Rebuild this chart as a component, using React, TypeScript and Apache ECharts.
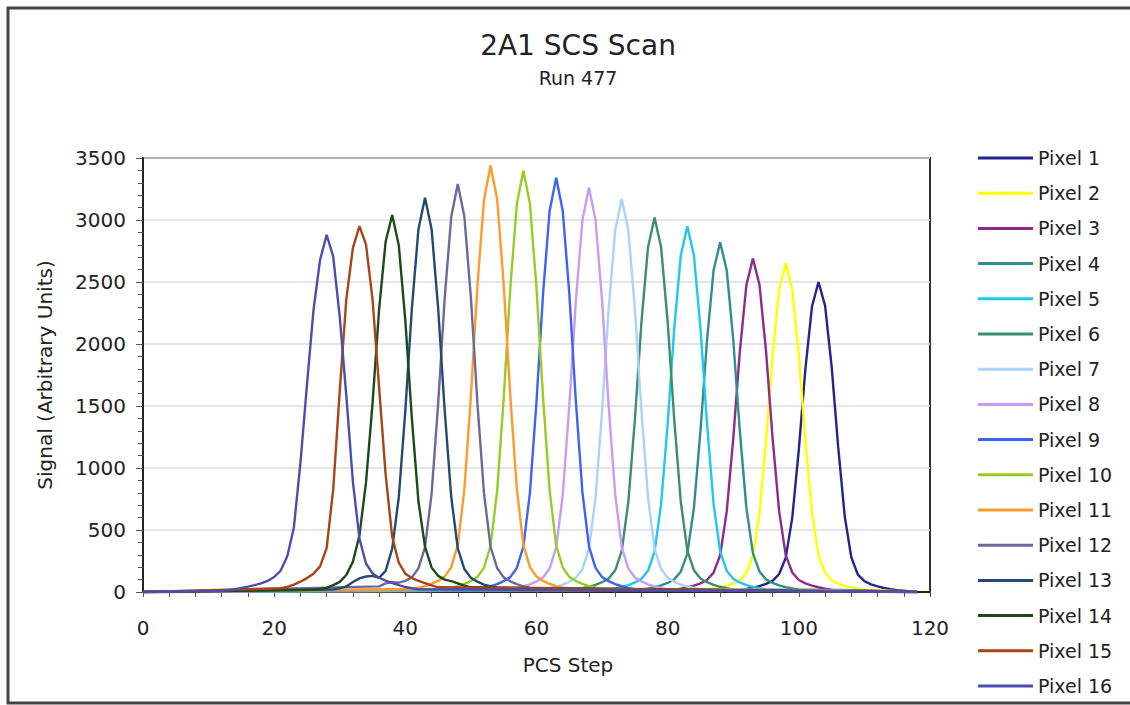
import React, { useEffect, useRef } from "react";
import * as echarts from "echarts";

const seriesNames = [
  "Pixel 1", "Pixel 2", "Pixel 3", "Pixel 4", "Pixel 5", "Pixel 6", "Pixel 7", "Pixel 8",
  "Pixel 9", "Pixel 10", "Pixel 11", "Pixel 12", "Pixel 13", "Pixel 14", "Pixel 15", "Pixel 16",
];

const seriesColors = [
  "#24248C", "#FFFF00", "#8E2A8C", "#2F8F8A", "#22C6F2", "#3A9068", "#A9D3FA", "#C99AF6",
  "#3D63F5", "#99CC22", "#FF9A2E", "#6C6A9C", "#244A72", "#1C4A1C", "#A84416", "#4D4DB0",
];

// PCS step of first value for each pixel
const startSteps = [91, 86, 81, 76, 71, 66, 61, 56, 51, 46, 41, 36, 29, 26, 21, 12];

// scan range (signal is ~0 at both ends)
const scanRange = [0, 118];

const pixel1 = [18, 25, 35, 48, 65, 90, 145, 275, 600, 1150, 1800, 2300, 2500, 2310, 1820, 1170, 610, 280, 140, 88, 62, 45, 32, 22, 15];
const pixel2 = [19, 27, 37, 50, 69, 95, 154, 292, 636, 1219, 1908, 2438, 2650, 2440, 1910, 1225, 640, 295, 155, 95, 68, 50, 37, 26, 19];
const pixel3 = [19, 27, 38, 51, 70, 97, 156, 296, 646, 1237, 1937, 2475, 2690, 2478, 1940, 1240, 650, 298, 157, 97, 70, 51, 38, 27, 19];
const pixel4 = [20, 28, 39, 54, 73, 102, 164, 310, 677, 1297, 2030, 2594, 2820, 2597, 2035, 1300, 680, 312, 165, 101, 73, 54, 39, 28, 20];
const pixel5 = [21, 30, 41, 56, 77, 106, 171, 325, 708, 1357, 2124, 2714, 2950, 2716, 2128, 1360, 712, 327, 172, 106, 77, 56, 41, 30, 21];
const pixel6 = [21, 30, 42, 57, 79, 109, 175, 332, 725, 1389, 2174, 2778, 3020, 2780, 2178, 1392, 728, 334, 176, 109, 79, 57, 42, 30, 21];
const pixel7 = [22, 32, 44, 60, 82, 114, 184, 349, 761, 1458, 2282, 2916, 3170, 2918, 2286, 1462, 765, 350, 185, 114, 82, 60, 44, 32, 22];
const pixel8 = [23, 33, 46, 62, 85, 117, 189, 359, 782, 1500, 2347, 2999, 3260, 3001, 2350, 1503, 786, 360, 190, 117, 85, 62, 46, 33, 23];
const pixel9 = [23, 33, 47, 63, 87, 120, 194, 367, 802, 1536, 2405, 3073, 3340, 3075, 2408, 1540, 805, 368, 195, 120, 87, 63, 47, 33, 23];
const pixel10 = [24, 34, 48, 65, 88, 122, 197, 374, 816, 1564, 2448, 3128, 3400, 3130, 2450, 1567, 820, 375, 198, 122, 88, 65, 48, 34, 24];
const pixel11 = [24, 34, 48, 65, 89, 124, 200, 378, 826, 1582, 2477, 3165, 3440, 3167, 2480, 1586, 830, 380, 200, 124, 89, 65, 48, 34, 24];
const pixel12 = [45, 70, 80, 75, 90, 118, 191, 362, 790, 1513, 2369, 3027, 3290, 3029, 2372, 1517, 793, 363, 192, 118, 86, 63, 46, 33, 23];
const pixel13 = [20, 30, 45, 80, 110, 125, 130, 115, 170, 350, 763, 1463, 2290, 2926, 3180, 2928, 2292, 1466, 766, 351, 185, 114, 83, 60, 45, 32, 22];
const pixel14 = [18, 24, 33, 55, 82, 137, 243, 456, 882, 1520, 2280, 2827, 3040, 2797, 2189, 1398, 730, 365, 198, 130, 100, 88, 70, 52, 38];
const pixel15 = [30, 41, 59, 83, 112, 148, 207, 354, 826, 1623, 2360, 2773, 2950, 2803, 2360, 1652, 944, 443, 236, 148, 112, 89, 71, 53, 38];
const pixel16 = [9, 14, 23, 32, 43, 55, 69, 89, 121, 173, 288, 518, 1037, 1670, 2275, 2678, 2880, 2707, 2218, 1584, 893, 432, 230, 150, 115, 92, 72, 55, 40, 30, 22];

const pixelValues = [
  pixel1, pixel2, pixel3, pixel4, pixel5, pixel6, pixel7, pixel8,
  pixel9, pixel10, pixel11, pixel12, pixel13, pixel14, pixel15, pixel16,
];

const xTicks = { min: 0, max: 120, interval: 20 };
const yTicks = { min: 0, max: 3500, interval: 500 };

const FONT = "DejaVu Sans";

export default function App() {
  const ref = useRef<HTMLDivElement>(null);

  useEffect(() => {
    if (!ref.current) return;
    const chart = echarts.init(ref.current, null, { renderer: "svg" });

    const series = pixelValues.map((vals, i) => {
      const pts: [number, number][] = [[scanRange[0], 0]];
      vals.forEach((v, k) => pts.push([startSteps[i] + k, v]));
      pts.push([scanRange[1], 0]);
      return {
        name: seriesNames[i],
        type: "line",
        data: pts,
        symbol: "none",
        showSymbol: false,
        color: seriesColors[i],
        lineStyle: { width: 2.4, color: seriesColors[i] },
      };
    });

    chart.setOption({
      animation: false,
      backgroundColor: "#ffffff",
      title: {
        text: "2A1 SCS Scan",
        subtext: "Run 477",
        left: 573,
        textAlign: "center",
        top: 26,
        itemGap: 9,
        textStyle: { fontFamily: FONT, fontSize: 28, fontWeight: "normal", color: "#222" },
        subtextStyle: { fontFamily: FONT, fontSize: 19, color: "#222" },
      },
      legend: {
        orient: "vertical",
        left: 978,
        top: 148,
        padding: 0,
        icon: "rect",
        itemWidth: 55,
        itemHeight: 3,
        itemGap: 15.2,
        textStyle: { fontFamily: FONT, fontSize: 19, color: "#222", lineHeight: 20 },
        data: seriesNames,
      },
      grid: {
        left: 143,
        top: 158,
        right: 200,
        bottom: 113,
        show: true,
        borderColor: "#333",
        borderWidth: 2,
      },
      xAxis: {
        type: "value",
        min: xTicks.min,
        max: xTicks.max,
        interval: xTicks.interval,
        axisLine: { show: true, lineStyle: { color: "#222", width: 2 } },
        axisTick: { show: true, length: 5, lineStyle: { color: "#555" } },
        minorTick: { show: true, splitNumber: 5, length: 5, lineStyle: { color: "#555" } },
        splitLine: { show: false },
        axisLabel: { fontFamily: FONT, fontSize: 20, color: "#222", margin: 26 },
      },
      yAxis: {
        type: "value",
        min: yTicks.min,
        max: yTicks.max,
        interval: yTicks.interval,
        name: "Signal (Arbitrary Units)",
        nameLocation: "middle",
        nameGap: 88,
        nameTextStyle: { fontFamily: FONT, fontSize: 20, color: "#222" },
        axisLine: { show: true, lineStyle: { color: "#222", width: 2 } },
        axisTick: { show: true, length: 7, lineStyle: { color: "#555" } },
        minorTick: { show: true, splitNumber: 5, length: 5, lineStyle: { color: "#555" } },
        splitLine: { show: true, lineStyle: { color: "#dcdcdc", width: 1.5 } },
        axisLabel: {
          fontFamily: FONT,
          fontSize: 20,
          color: "#222",
          margin: 17,
          formatter: (v: number) => String(v),
        },
      },
      graphic: [
        {
          type: "rect",
          shape: { x: 8, y: 8, width: 1130, height: 695 },
          style: { fill: "none", stroke: "#444", lineWidth: 3 },
          silent: true,
        },
        {
          type: "text",
          x: 568,
          y: 665,
          style: {
            text: "PCS Step",
            fontFamily: FONT,
            fontSize: 20,
            fill: "#222",
            align: "center",
            verticalAlign: "middle",
          },
          silent: true,
        },
      ],
      series,
    });

    return () => chart.dispose();
  }, []);

  return (
    <div
      ref={ref}
      style={{ position: "fixed", left: 0, top: 0, width: 1130, height: 705 }}
    />
  );
}
